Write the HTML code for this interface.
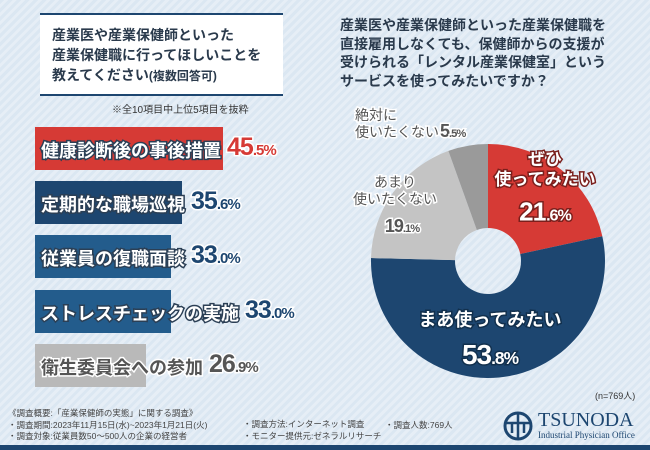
<!DOCTYPE html>
<html><head><meta charset="utf-8"><style>
body{margin:0;width:650px;height:450px;overflow:hidden;font-family:"Liberation Sans","Noto Sans CJK JP",sans-serif;}
#bg{position:absolute;left:0;top:0;width:650px;height:450px;background:repeating-linear-gradient(135deg,#dbe7f2 0 3px,#e6eef6 3px 6px);}
.t{position:absolute;color:#333;}
.lbl{position:absolute;color:#fff;font-weight:bold;font-size:18px;-webkit-text-stroke:3px #2b3f55;paint-order:stroke fill;white-space:nowrap;}
.val{position:absolute;font-weight:bold;font-size:25px;white-space:nowrap;-webkit-text-stroke:3px #fff;paint-order:stroke fill;letter-spacing:-1px;}
.val small{font-size:15px;}
</style></head><body>
<div id="bg"></div>
<div style="position:absolute;left:40px;top:13px;width:243px;height:79px;background:#fff;border-top:2px solid #1d4670;border-bottom:2px solid #1d4670;"></div>
<div class="t" style="left:52px;top:25px;font-size:14px;line-height:20px;font-weight:bold;color:#2a3a4c;">産業医や産業保健師といった<br>産業保健職に行ってほしいことを<br>教えてください<span style="font-size:12px">(複数回答可)</span></div>
<div class="t" style="left:112px;top:101px;font-size:10px;">※全10項目中上位5項目を抜粋</div>
<div class="t" style="left:340px;top:16px;font-size:14px;line-height:18.5px;font-weight:bold;color:#2a3a4c;">産業医や産業保健師といった産業保健職を<br>直接雇用しなくても、保健師からの支援が<br>受けられる「レンタル産業保健室」という<br>サービスを使ってみたいですか？</div>
<svg id="chart" width="650" height="450" style="position:absolute;left:0;top:0"></svg>
<div id="bars"></div>
<div class="t" style="left:595px;top:389px;font-size:9px;">(n=769人)</div>
<div class="t" style="left:8px;top:408px;font-size:8.5px;line-height:11.5px;color:#444;">《調査概要:「産業保健師の実態」に関する調査》<br>・調査期間:2023年11月15日(水)~2023年1月21日(火)<br>・調査対象:従業員数50～500人の企業の経営者</div>
<div class="t" style="left:243px;top:419px;font-size:8.5px;line-height:11.5px;color:#444;">・調査方法:インターネット調査<br>・モニター提供元:ゼネラルリサーチ</div>
<div class="t" style="left:385px;top:419px;font-size:8.5px;color:#444;">・調査人数:769人</div>
<svg width="30" height="30" style="position:absolute;left:503px;top:411px"><circle cx="15" cy="15" r="13" fill="none" stroke="#1d4670" stroke-width="3"/><path d="M3 12H27M15 3V28M9 12V22M21 12V22" stroke="#1d4670" stroke-width="2.5" fill="none"/></svg>
<div class="t" style="left:538px;top:409px;font-family:'Liberation Serif',serif;font-size:20px;color:#1d4670;">TSUNODA</div>
<div class="t" style="left:538px;top:430px;font-family:'Liberation Serif',serif;font-size:9px;color:#1d4670;">Industrial Physician Office</div>
<div style="position:absolute;left:0;top:445px;width:650px;height:5px;background:#1d4670;"></div>
<script>
const barLabels=["健康診断後の事後措置","定期的な職場巡視","従業員の復職面談","ストレスチェックの実施","衛生委員会への参加"];
const barValues=[45.5,35.6,33.0,33.0,26.9];
const barColors=["#d63a35","#1d4670","#235c8c","#235c8c","#b9b9b9"];
const pieLabels=["ぜひ使ってみたい","まあ使ってみたい","あまり使いたくない","絶対に使いたくない"];
const pieValues=[21.6,53.8,19.1,5.5];
const pieColors=["#d63a35","#1d4670","#c4c4c4","#9a9a9a"];

const X0=35, scale=188/45.5;
const xs=v=>v*scale;
const holder=document.getElementById('bars');
barValues.forEach((v,i)=>{
  const y=127+i*54.2;
  const b=document.createElement('div');
  
  
  b.style.cssText=`position:absolute;left:${X0}px;top:${y}px;width:${xs(v)}px;height:43px;background:${barColors[i]}`;
  holder.appendChild(b);
  const l=document.createElement('div');
  l.className='lbl';
  
  
  l.textContent=barLabels[i];
  l.style.left='41px';l.style.top=(y+10)+'px';
  if(i==4){l.style.color='#555';l.style.webkitTextStroke='3px #fff';}
  holder.appendChild(l);
  const vl=document.createElement('div');
  vl.className='val';
  
  
  const s=v.toFixed(1).split('.');
  vl.innerHTML=s[0]+'<small>.'+s[1]+'%</small>';
  vl.style.color=i==0?'#d63a35':(i==4?'#555':'#1d4670');
  holder.appendChild(vl);
  vl.style.top=(y+6)+'px';
  vl.style.left=(41+l.offsetWidth+6)+'px';
});

const svg=document.getElementById('chart');
const NS='http://www.w3.org/2000/svg';
const cx=488,cy=261,R=117,r=33;
const total=pieValues.reduce((a,b)=>a+b,0);
let a0=0;
const pt=(a,rad)=>[cx+rad*Math.sin(a),cy-rad*Math.cos(a)];
const pieText=[
 {lines:["ぜひ","使ってみたい"],fill:"#fff",stroke:"#7a1f1c",size:17,w:"bold"},
 {lines:["まあ使ってみたい"],fill:"#fff",stroke:"#12304d",size:18,w:"bold"},
 {lines:["あまり","使いたくない"],fill:"#555",stroke:"#fff",size:14,w:"normal"},
 {lines:["絶対に","使いたくない"],fill:"#555",stroke:"#fff",size:14,w:"normal"}];
const pos=[[545,165],[490,326],[395,187],[355,120]];
pieValues.forEach((v,i)=>{
  const a1=a0+v/total*2*Math.PI;
  const [x1,y1]=pt(a0,R),[x2,y2]=pt(a1,R),[x3,y3]=pt(a1,r),[x4,y4]=pt(a0,r);
  const large=(a1-a0)>Math.PI?1:0;
  const p=document.createElementNS(NS,'path');
  p.setAttribute('d',`M${x1},${y1}A${R},${R} 0 ${large} 1 ${x2},${y2}L${x3},${y3}A${r},${r} 0 ${large} 0 ${x4},${y4}Z`);
  p.setAttribute('fill',pieColors[i]);
  
  
  svg.appendChild(p);
  a0=a1;
});
pieValues.forEach((v,i)=>{
  const t=pieText[i];const [px,py]=pos[i];
  const g=document.createElementNS(NS,'text');
  
  
  g.setAttribute('font-weight',t.w);g.setAttribute('fill',t.fill);
  g.setAttribute('stroke',t.stroke);g.setAttribute('stroke-width','3');g.setAttribute('paint-order','stroke');
  g.setAttribute('font-size',t.size);g.setAttribute('text-anchor',i==3?'start':'middle');
  t.lines.forEach((ln,j)=>{const s=document.createElementNS(NS,'tspan');s.setAttribute('x',px);s.setAttribute('y',py+j*(t.size+3));s.textContent=ln;g.appendChild(s);});
  svg.appendChild(g);
  const vt=document.createElementNS(NS,'text');
  
  
  vt.setAttribute('font-weight','bold');vt.setAttribute('fill',t.fill);
  vt.setAttribute('stroke',t.stroke);vt.setAttribute('stroke-width','3');vt.setAttribute('paint-order','stroke');
  vt.setAttribute('letter-spacing','-1');
  const s=v.toFixed(1).split('.');
  const big=i==1?28:(i==0?26:18);
  let vx=px,vy=py+t.lines.length*(t.size+3)+big*0.6;
  if(i==3){vx=440;vy=py+t.size+3;vt.setAttribute('text-anchor','start');}
  else vt.setAttribute('text-anchor','middle');
  if(i==2){vx=402;}
  vt.setAttribute('x',vx);vt.setAttribute('y',vy);
  vt.innerHTML=`<tspan font-size="${big}">${s[0]}</tspan><tspan font-size="${big*0.62}">.${s[1]}%</tspan>`;
  svg.appendChild(vt);
});
</script>
</body></html>
